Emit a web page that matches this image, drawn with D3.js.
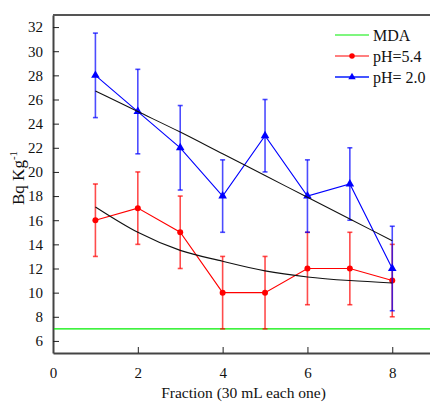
<!DOCTYPE html>
<html>
<head>
<meta charset="utf-8">
<script src="https://cdn.jsdelivr.net/npm/d3@7"></script>
<style>
  body { margin: 0; background: #fff; }
</style>
</head>
<body>
<svg id="chart" width="430" height="403"></svg>
<script>
// data
const fractions = [1, 2, 3, 4, 5, 6, 7, 8];
const ph54 = [16, 17, 15, 10, 10, 12, 12, 11];
const ph54Err = [3, 3, 3, 3, 3, 3, 3, 3];
const ph20 = [28, 25, 22, 18, 23, 18, 19, 12];
const ph20Err = [3.5, 3.5, 3.5, 3, 3, 3, 3, 3.5];
const ph54Fit = [17.1, 15.0, 13.5, 12.6, 11.8, 11.3, 11.0, 10.8];
const ph20Fit = [26.7, 25.0, 23.3, 21.5, 19.7, 17.9, 16.1, 14.3];
const mda = 7;
const xTicks = [0, 2, 4, 6, 8];
const yTicks = d3.range(6, 33, 2);

const serif = "Liberation Serif, Tinos, Nimbus Roman, Nimbus Roman No9 L, FreeSerif, Times New Roman, Times, DejaVu Serif, Noto Serif, serif";
const svg = d3.select('#chart').style('font-family', serif);
const padL = 53, padT = 15, padB = 353, padR = 430;

const x = d3.scaleLinear().domain([0, 8.89]).range([padL, padR]);
const y = d3.scaleLinear().domain([5, 33]).range([padB, padT]);

// axes, ticks pointing inward
svg.append('g')
   .attr('transform', `translate(0, ${padB})`)
   .call(d3.axisBottom(x).tickValues(xTicks).tickSizeInner(-6).tickSizeOuter(0).tickPadding(14))
   .style('font-family', serif).attr('font-size', 15)
   .call(g => g.select('.domain').attr('stroke', '#444').attr('stroke-width', 2))
   .call(g => g.selectAll('.tick line').attr('stroke', '#222'))
   .call(g => g.selectAll('text').attr('fill', '#111'));

svg.append('g')
   .attr('transform', `translate(${padL}, 0)`)
   .call(d3.axisLeft(y).tickValues(yTicks).tickSizeInner(-6).tickSizeOuter(0).tickPadding(10))
   .style('font-family', serif).attr('font-size', 15)
   .call(g => g.select('.domain').attr('stroke', '#444').attr('stroke-width', 2))
   .call(g => g.selectAll('.tick line').attr('stroke', '#222'))
   .call(g => g.selectAll('text').attr('fill', '#111'));

svg.append('line')
   .attr('x1', padL).attr('x2', padR)
   .attr('y1', padT).attr('y2', padT)
   .attr('stroke', '#555').attr('stroke-width', 2);

// axis titles
svg.append('text')
   .attr('x', (padL + padR) / 2 + 2).attr('y', 398)
   .attr('text-anchor', 'middle').attr('font-size', 15.5).attr('fill', '#111')
   .text('Fraction (30 mL each one)');

const yl = svg.append('text')
   .attr('transform', `translate(24, ${y(19.5)}) rotate(-90)`)
   .attr('text-anchor', 'middle').attr('font-size', 17).attr('fill', '#111');
yl.append('tspan').text('Bq Kg');
yl.append('tspan').attr('dy', -7).attr('font-size', 11).text('-1');

// MDA line
svg.append('line')
   .attr('x1', padL + 1).attr('x2', padR)
   .attr('y1', y(mda)).attr('y2', y(mda))
   .attr('stroke', '#00ee00').attr('stroke-width', 1.3);

const line = d3.line().x((d, i) => x(fractions[i])).y(d => y(d));
const fitLine = d3.line().x((d, i) => x(fractions[i])).y(d => y(d)).curve(d3.curveMonotoneX);

function drawSeries(vals, errs, color, shape) {
  const g = svg.append('g');
  fractions.forEach((f, i) => {
    const cx = x(f), lo = y(vals[i] - errs[i]), hi = y(vals[i] + errs[i]);
    g.append('line').attr('x1', cx).attr('x2', cx).attr('y1', lo).attr('y2', hi)
     .attr('stroke', color).attr('stroke-width', 1.6).attr('stroke-opacity', 0.7);
    [lo, hi].forEach(v => g.append('line')
      .attr('x1', cx - 2.5).attr('x2', cx + 2.5).attr('y1', v).attr('y2', v)
      .attr('stroke', color).attr('stroke-width', 1.6).attr('stroke-opacity', 0.7));
  });
  g.append('path').attr('d', line(vals)).attr('fill', 'none')
   .attr('stroke', color).attr('stroke-width', 1.1);
  g.selectAll('path.pt').data(vals).enter().append('path')
   .attr('class', 'pt')
   .attr('transform', (d, i) => `translate(${x(fractions[i])}, ${y(d)})`)
   .attr('d', d3.symbol().type(shape).size(shape === d3.symbolCircle ? 28 : 32))
   .attr('fill', color);
}

drawSeries(ph54, ph54Err, '#ff0000', d3.symbolCircle);
drawSeries(ph20, ph20Err, '#0000ff', d3.symbolTriangle);

// fitted curves
[ph54Fit, ph20Fit].forEach(f => svg.append('path')
   .attr('d', fitLine(f)).attr('fill', 'none')
   .attr('stroke', '#111').attr('stroke-width', 1.1));

// legend
const legend = [
  { name: 'MDA', color: '#00ee00', shape: null },
  { name: 'pH=5.4', color: '#ff0000', shape: d3.symbolCircle },
  { name: 'pH= 2.0', color: '#4455ff', shape: d3.symbolTriangle }
];
const lg = svg.selectAll('g.leg').data(legend).enter().append('g')
   .attr('class', 'leg')
   .attr('transform', (d, i) => `translate(335, ${35 + i * 21})`);
lg.append('line').attr('x1', 0).attr('x2', 34)
  .attr('stroke', d => d.color).attr('stroke-width', (d, i) => i === 2 ? 2 : 1.2);
lg.filter(d => d.shape).append('path')
  .attr('transform', 'translate(17, 0)')
  .attr('d', d => d3.symbol().type(d.shape).size(24)())
  .attr('fill', d => d.shape === d3.symbolTriangle ? '#0000ff' : d.color);
lg.append('text').attr('x', 38).attr('y', 6).attr('font-size', 16).attr('fill', '#111')
  .text(d => d.name);
</script>
</body>
</html>
